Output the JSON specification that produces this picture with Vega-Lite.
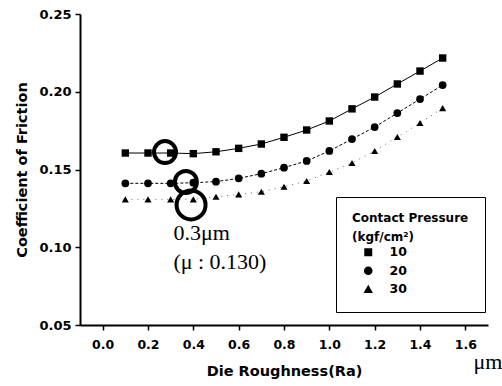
{
  "$schema": "https://vega.github.io/schema/vega-lite/v6.json",
  "width": 408,
  "height": 311,
  "autosize": {"type": "none"},
  "padding": {"left": 80, "top": 14, "right": 14, "bottom": 61},
  "background": "white",
  "config": {
    "view": {"stroke": null},
    "axis": {
      "domainColor": "black",
      "domainWidth": 2,
      "tickColor": "black",
      "tickWidth": 1.5,
      "labelFont": "DejaVu Sans",
      "labelFontWeight": "bold",
      "labelColor": "black",
      "titleFont": "DejaVu Sans",
      "titleFontWeight": "bold",
      "titleColor": "black",
      "titleFontSize": 14.5,
      "grid": false,
      "labelOverlap": false,
      "labelBound": false,
      "labelFlush": false
    }
  },
  "datasets": {
    "friction": [
      {"ra": 0.1, "cof": 0.1606, "P": "10"},
      {"ra": 0.2, "cof": 0.1606, "P": "10"},
      {"ra": 0.3, "cof": 0.1606, "P": "10"},
      {"ra": 0.4, "cof": 0.1602, "P": "10"},
      {"ra": 0.5, "cof": 0.1614, "P": "10"},
      {"ra": 0.6, "cof": 0.1636, "P": "10"},
      {"ra": 0.7, "cof": 0.1664, "P": "10"},
      {"ra": 0.8, "cof": 0.1707, "P": "10"},
      {"ra": 0.9, "cof": 0.1754, "P": "10"},
      {"ra": 1.0, "cof": 0.1812, "P": "10"},
      {"ra": 1.1, "cof": 0.189, "P": "10"},
      {"ra": 1.2, "cof": 0.1966, "P": "10"},
      {"ra": 1.3, "cof": 0.205, "P": "10"},
      {"ra": 1.4, "cof": 0.2133, "P": "10"},
      {"ra": 1.5, "cof": 0.2217, "P": "10"},
      {"ra": 0.1, "cof": 0.1411, "P": "20"},
      {"ra": 0.2, "cof": 0.1411, "P": "20"},
      {"ra": 0.3, "cof": 0.1411, "P": "20"},
      {"ra": 0.4, "cof": 0.1415, "P": "20"},
      {"ra": 0.5, "cof": 0.1422, "P": "20"},
      {"ra": 0.6, "cof": 0.1443, "P": "20"},
      {"ra": 0.7, "cof": 0.1473, "P": "20"},
      {"ra": 0.8, "cof": 0.1512, "P": "20"},
      {"ra": 0.9, "cof": 0.1555, "P": "20"},
      {"ra": 1.0, "cof": 0.1619, "P": "20"},
      {"ra": 1.1, "cof": 0.1696, "P": "20"},
      {"ra": 1.2, "cof": 0.1773, "P": "20"},
      {"ra": 1.3, "cof": 0.1863, "P": "20"},
      {"ra": 1.4, "cof": 0.1953, "P": "20"},
      {"ra": 1.5, "cof": 0.2043, "P": "20"},
      {"ra": 0.1, "cof": 0.1308, "P": "30"},
      {"ra": 0.2, "cof": 0.1308, "P": "30"},
      {"ra": 0.3, "cof": 0.1308, "P": "30"},
      {"ra": 0.4, "cof": 0.1308, "P": "30"},
      {"ra": 0.5, "cof": 0.1325, "P": "30"},
      {"ra": 0.6, "cof": 0.134, "P": "30"},
      {"ra": 0.7, "cof": 0.1357, "P": "30"},
      {"ra": 0.8, "cof": 0.1389, "P": "30"},
      {"ra": 0.9, "cof": 0.1426, "P": "30"},
      {"ra": 1.0, "cof": 0.1484, "P": "30"},
      {"ra": 1.1, "cof": 0.1542, "P": "30"},
      {"ra": 1.2, "cof": 0.1619, "P": "30"},
      {"ra": 1.3, "cof": 0.1709, "P": "30"},
      {"ra": 1.4, "cof": 0.1799, "P": "30"},
      {"ra": 1.5, "cof": 0.1895, "P": "30"}
    ],
    "rings": [
      {"ra": 0.275, "cof": 0.1612},
      {"ra": 0.367, "cof": 0.142}
    ],
    "bigring": [
      {"ra": 0.39, "cof": 0.1272}
    ],
    "notes": [
      {"ra": 0.312, "cof": 0.1047, "label": "0.3μm"},
      {"ra": 0.312, "cof": 0.086, "label": "(μ : 0.130)"}
    ],
    "unit": [
      {"ra": 1.7, "cof": 0.022, "label": "μm"}
    ]
  },
  "layer": [
    {
      "data": {"name": "friction"},
      "transform": [{"filter": "datum.P === '10'"}],
      "mark": {"type": "line", "color": "black", "strokeWidth": 1},
      "encoding": {
        "x": {
          "field": "ra", "type": "quantitative",
          "scale": {"domain": [-0.1, 1.7], "nice": false, "zero": false},
          "axis": {
            "orient": "bottom",
            "title": "Die Roughness(Ra)",
            "values": [0, 0.1, 0.2, 0.3, 0.4, 0.5, 0.6, 0.7, 0.8, 0.9, 1.0, 1.1, 1.2, 1.3, 1.4, 1.5, 1.6, 1.7],
            "labelExpr": "round(datum.value*10) % 2 == 0 ? format(datum.value, '.1f') : ''",
            "tickSize": {"condition": {"test": "round(datum.value*10) % 2 == 0", "value": 5}, "value": 3},
            "labelFontSize": 12.5,
            "labelPadding": 8,
            "titlePadding": 14
          }
        },
        "y": {
          "field": "cof", "type": "quantitative",
          "scale": {"domain": [0.05, 0.25], "nice": false, "zero": false},
          "axis": {
            "title": "Coefficient of Friction",
            "values": [0.05, 0.075, 0.1, 0.125, 0.15, 0.175, 0.2, 0.225, 0.25],
            "labelExpr": "round(datum.value*1000) % 50 == 0 ? format(datum.value, '.2f') : ''",
            "tickSize": {"condition": {"test": "round(datum.value*1000) % 50 == 0", "value": 5}, "value": 3},
            "labelFontSize": 13,
            "labelPadding": 4,
            "titlePadding": 9
          }
        }
      }
    },
    {
      "data": {"name": "friction"},
      "transform": [{"filter": "datum.P === '20'"}],
      "mark": {"type": "line", "color": "black", "strokeWidth": 1, "strokeDash": [3, 2]},
      "encoding": {
        "x": {"field": "ra", "type": "quantitative"},
        "y": {"field": "cof", "type": "quantitative"}
      }
    },
    {
      "data": {"name": "friction"},
      "transform": [{"filter": "datum.P === '30'"}],
      "mark": {"type": "line", "color": "#444444", "strokeWidth": 0.8, "strokeDash": [1, 5]},
      "encoding": {
        "x": {"field": "ra", "type": "quantitative"},
        "y": {"field": "cof", "type": "quantitative"}
      }
    },
    {
      "data": {"name": "friction"},
      "transform": [{"filter": "datum.P === '10'"}],
      "mark": {"type": "point", "shape": "square", "filled": true, "color": "black", "opacity": 1, "size": 55},
      "encoding": {
        "x": {"field": "ra", "type": "quantitative"},
        "y": {"field": "cof", "type": "quantitative"}
      }
    },
    {
      "data": {"name": "friction"},
      "transform": [{"filter": "datum.P === '20'"}],
      "mark": {"type": "point", "shape": "circle", "filled": true, "color": "black", "opacity": 1, "size": 60},
      "encoding": {
        "x": {"field": "ra", "type": "quantitative"},
        "y": {"field": "cof", "type": "quantitative"}
      }
    },
    {
      "data": {"name": "friction"},
      "transform": [{"filter": "datum.P === '30'"}],
      "mark": {"type": "point", "shape": "triangle-up", "filled": true, "color": "black", "opacity": 1, "size": 50},
      "encoding": {
        "x": {"field": "ra", "type": "quantitative"},
        "y": {"field": "cof", "type": "quantitative"}
      }
    },
    {
      "data": {"name": "friction"},
      "mark": {"type": "point", "filled": true, "fill": "black", "stroke": "black", "strokeWidth": 1, "opacity": 0, "size": 10},
      "encoding": {
        "x": {"field": "ra", "type": "quantitative"},
        "y": {"field": "cof", "type": "quantitative"},
        "shape": {
          "field": "P", "type": "nominal",
          "scale": {
            "domain": ["10", "20", "30"],
            "range": [
              "M-2,0H2M-0.76,-0.76H0.76V0.76H-0.76Z",
              "M-2,0H2M0.82,0A0.82,0.82,0,1,1,-0.82,0A0.82,0.82,0,1,1,0.82,0Z",
              "M0,-0.85L0.9,0.7H-0.9Z"
            ]
          },
          "legend": {
            "orient": "none",
            "legendX": 256,
            "legendY": 183,
            "title": ["Contact Pressure", "(kgf/cm²)"],
            "titleFont": "DejaVu Sans",
            "titleFontWeight": "bold",
            "titleFontSize": 12,
            "titleLineHeight": 19,
            "titleColor": "black",
            "titlePadding": 2,
            "labelFont": "DejaVu Sans",
            "labelFontWeight": "bold",
            "labelFontSize": 12.5,
            "labelColor": "black",
            "labelOffset": 15,
            "symbolSize": 110,
            "symbolOpacity": 1,
            "symbolFillColor": "black",
            "symbolStrokeColor": "black",
            "symbolStrokeWidth": 1,
            "rowPadding": 4.5,
            "padding": 16,
            "symbolOffset": 10,
            "strokeColor": "black",
            "fillColor": "white",
            "encode": {
              "legend": {"strokeWidth": {"value": 1}},
              "symbols": {"stroke": {"value": "black"}, "strokeWidth": {"value": 1}}
            }
          }
        }
      }
    },
    {
      "data": {"name": "rings"},
      "mark": {"type": "point", "shape": "circle", "filled": false, "stroke": "black", "strokeWidth": 4, "size": 484, "opacity": 1},
      "encoding": {
        "x": {"field": "ra", "type": "quantitative"},
        "y": {"field": "cof", "type": "quantitative"}
      }
    },
    {
      "data": {"name": "bigring"},
      "mark": {"type": "point", "shape": "circle", "filled": false, "stroke": "black", "strokeWidth": 4, "size": 841, "opacity": 1},
      "encoding": {
        "x": {"field": "ra", "type": "quantitative"},
        "y": {"field": "cof", "type": "quantitative"}
      }
    },
    {
      "data": {"name": "notes"},
      "mark": {"type": "text", "font": "Liberation Serif", "fontSize": 22, "align": "left", "baseline": "alphabetic", "color": "black"},
      "encoding": {
        "x": {"field": "ra", "type": "quantitative"},
        "y": {"field": "cof", "type": "quantitative"},
        "text": {"field": "label"}
      }
    },
    {
      "data": {"name": "unit"},
      "mark": {"type": "text", "font": "Liberation Serif", "fontSize": 22, "align": "center", "baseline": "alphabetic", "color": "black"},
      "encoding": {
        "x": {"field": "ra", "type": "quantitative"},
        "y": {"field": "cof", "type": "quantitative"},
        "text": {"field": "label"}
      }
    }
  ]
}
